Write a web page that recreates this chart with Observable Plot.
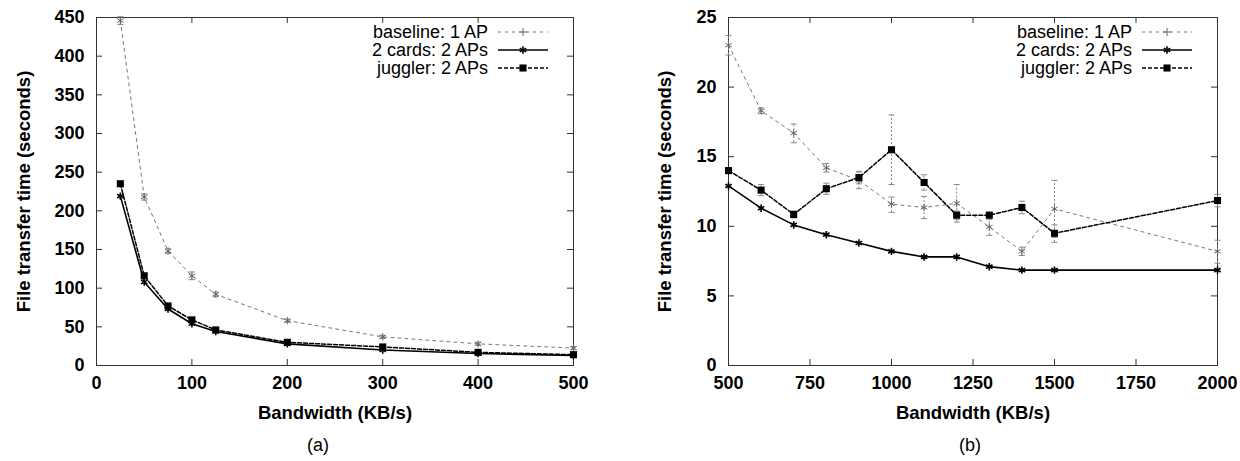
<!DOCTYPE html>
<html><head><meta charset="utf-8">
<script src="https://cdn.jsdelivr.net/npm/d3@7"></script>
<script src="https://cdn.jsdelivr.net/npm/@observablehq/plot@0.6"></script>
<style>
body{margin:0;background:#fff;font-family:"Liberation Sans",Arial,sans-serif;}
#wrap{display:flex;width:1240px;}
.panel{position:relative;width:620px;}
.panel svg text{font-weight:bold;}
.panel svg g[aria-label$="axis label"]{font-size:18.5px;}
.cap{font-size:18px;height:31px;line-height:31px;text-align:center;}
.legend{position:absolute;font-size:18px;color:#000;}
.row{display:flex;align-items:center;justify-content:flex-end;height:18.4px;}
.row span{margin-right:10px;white-space:nowrap;line-height:18.4px;}
.row svg{display:block;}
</style></head>
<body>
<div id="wrap"></div>
<script>
// ---- Data: panel (a) ----
const bwA = [25, 50, 75, 100, 125, 200, 300, 400, 500];
const baselineA = [446, 218, 148, 116, 92, 58, 37, 28, 22.5];
const baselineLoA = [441, 214, 145, 111, 89, 56, 35, 26, 20.5];
const baselineHiA = [451, 222, 151, 121, 95, 60, 39, 30, 24.5];
const cardsA = [219, 108, 73, 54, 44, 28, 20, 15.5, 13];
const jugglerA = [235, 116, 77, 59, 46, 30, 24, 17, 14];
const xTicksA = [0, 100, 200, 300, 400, 500];
const yTicksA = [0, 50, 100, 150, 200, 250, 300, 350, 400, 450];

// ---- Data: panel (b) ----
const bwB = [500, 600, 700, 800, 900, 1000, 1100, 1200, 1300, 1400, 1500, 2000];
const baselineB = [23.0, 18.3, 16.7, 14.2, 13.3, 11.6, 11.35, 11.65, 9.95, 8.2, 11.25, 8.2];
const baselineLoB = [22.3, 18.1, 16.0, 13.9, 12.7, 11.0, 10.55, 10.3, 9.35, 7.9, 9.2, 7.35];
const baselineHiB = [23.7, 18.5, 17.35, 14.5, 13.9, 12.1, 12.15, 13.0, 10.5, 8.5, 13.3, 9.0];
const cardsB = [12.9, 11.3, 10.1, 9.4, 8.8, 8.2, 7.8, 7.8, 7.1, 6.85, 6.85, 6.85];
const jugglerB = [14.0, 12.6, 10.85, 12.7, 13.5, 15.5, 13.15, 10.8, 10.8, 11.35, 9.5, 11.85];
const jugglerLoB = [13.8, 12.2, 10.6, 12.3, 13.05, 13.0, 12.6, 10.5, 10.6, 10.9, 8.85, 11.4];
const jugglerHiB = [14.2, 13.0, 11.1, 13.1, 13.95, 18.0, 13.7, 11.1, 11.0, 11.8, 10.1, 12.3];
const xTicksB = [500, 750, 1000, 1250, 1500, 1750, 2000];
const yTicksB = [0, 5, 10, 15, 20, 25];

const seriesNames = ["baseline: 1 AP", "2 cards: 2 APs", "juggler: 2 APs"];
const xLabel = "Bandwidth (KB/s)";
const yLabel = "File transfer time (seconds)";

const capSymbol = {draw(ctx, size) { const r = Math.sqrt(size / Math.PI); ctx.moveTo(-r, 0); ctx.lineTo(r, 0); }};

function panel(o) {
  const W = 620, H = 430, mt = 17, mb = 65;
  const fw = W - o.ml - o.mr, fh = H - mt - mb;
  const rows = o.x.map((v, i) => ({x: v, base: o.base[i], cards: o.cards[i], jug: o.jug[i]}));
  const errs = [];
  o.x.forEach((v, i) => {
    if (o.baseLo) errs.push({x: v, lo: o.baseLo[i], hi: o.baseHi[i]});
    if (o.jugLo) errs.push({x: v, lo: o.jugLo[i], hi: o.jugHi[i]});
  });
  return Plot.plot({
    width: W, height: H,
    marginLeft: o.ml, marginRight: o.mr, marginTop: mt, marginBottom: mb,
    style: {fontFamily: "Liberation Sans", fontSize: "18px", color: "#000", background: "#fff"},
    x: {domain: o.xDomain},
    y: {domain: o.yDomain},
    marks: [
      Plot.frame({stroke: "#333"}),
      Plot.tickY(o.yTicks, {insetRight: fw - 6, stroke: "#333"}),
      Plot.tickY(o.yTicks, {insetLeft: fw - 6, stroke: "#333"}),
      Plot.tickX(o.xTicks, {insetTop: fh - 6, stroke: "#333"}),
      Plot.tickX(o.xTicks, {insetBottom: fh - 6, stroke: "#333"}),
      Plot.axisX({ticks: o.xTicks, tickSize: 0, tickPadding: 11, tickFormat: d3.format("d"), label: xLabel, labelAnchor: "center", labelOffset: 53, labelArrow: "none"}),
      Plot.axisY({ticks: o.yTicks, tickSize: 0, tickPadding: 12, tickFormat: d3.format("d"), label: yLabel, labelAnchor: "center", labelOffset: o.yLabelOffset, labelArrow: "none"}),
      Plot.ruleX(errs, {x: "x", y1: "lo", y2: "hi", stroke: "#888", strokeWidth: 1, strokeDasharray: "2,2"}),
      Plot.dot(errs, {x: "x", y: "lo", symbol: capSymbol, r: 3, stroke: "#888", strokeWidth: 1}),
      Plot.dot(errs, {x: "x", y: "hi", symbol: capSymbol, r: 3, stroke: "#888", strokeWidth: 1}),
      Plot.line(rows, {x: "x", y: "base", stroke: "#777", strokeWidth: 1, strokeDasharray: "3,4"}),
      Plot.line(rows, {x: "x", y: "cards", stroke: "#000", strokeWidth: 1.6}),
      Plot.line(rows, {x: "x", y: "jug", stroke: "#000", strokeWidth: 1.5, strokeDasharray: "4,2"}),
      Plot.dot(rows, {x: "x", y: "base", symbol: "asterisk", r: 3.5, stroke: "#666", strokeWidth: 1}),
      Plot.dot(rows, {x: "x", y: "cards", symbol: "asterisk", r: 3.5, stroke: "#000", strokeWidth: 1.6}),
      Plot.dot(rows, {x: "x", y: "jug", symbol: "square", r: 4, fill: "#000"})
    ]
  });
}

function sample(kind) {
  const ns = "http://www.w3.org/2000/svg";
  const s = document.createElementNS(ns, "svg");
  s.setAttribute("width", 50); s.setAttribute("height", 18);
  const l = document.createElementNS(ns, "line");
  l.setAttribute("x1", 0); l.setAttribute("x2", 50); l.setAttribute("y1", 9); l.setAttribute("y2", 9);
  if (kind === 0) { l.setAttribute("stroke", "#777"); l.setAttribute("stroke-dasharray", "3,4"); l.setAttribute("stroke-width", 1); }
  if (kind === 1) { l.setAttribute("stroke", "#000"); l.setAttribute("stroke-width", 1.6); }
  if (kind === 2) { l.setAttribute("stroke", "#000"); l.setAttribute("stroke-dasharray", "4,2"); l.setAttribute("stroke-width", 1.5); }
  s.appendChild(l);
  const p = document.createElementNS(ns, "path");
  if (kind === 0) { p.setAttribute("d", "M21,9h8M25,5v8"); p.setAttribute("stroke", "#666"); p.setAttribute("fill", "none"); }
  if (kind === 1) { p.setAttribute("d", d3.symbol(d3.symbolAsterisk, Math.PI * 12.25)()); p.setAttribute("transform", "translate(25,9)"); p.setAttribute("stroke", "#000"); p.setAttribute("stroke-width", 1.6); }
  if (kind === 2) { p.setAttribute("d", d3.symbol(d3.symbolSquare, Math.PI * 16)()); p.setAttribute("transform", "translate(25,9)"); p.setAttribute("fill", "#000"); }
  s.appendChild(p);
  return s;
}

function legend(right) {
  const d = document.createElement("div");
  d.className = "legend";
  d.style.right = right + "px";
  d.style.top = "22.5px";
  seriesNames.forEach((n, i) => {
    const r = document.createElement("div");
    r.className = "row";
    const sp = document.createElement("span");
    sp.textContent = n;
    r.appendChild(sp);
    r.appendChild(sample(i));
    d.appendChild(r);
  });
  return d;
}

const wrap = document.getElementById("wrap");
const configs = [
  {x: bwA, base: baselineA, baseLo: baselineLoA, baseHi: baselineHiA, cards: cardsA, jug: jugglerA,
   xDomain: [0, 500], yDomain: [0, 450], xTicks: xTicksA, yTicks: yTicksA, ml: 96, mr: 47, yLabelOffset: 80,
   legendRight: 72, cap: "(a)", capShift: 8},
  {x: bwB, base: baselineB, baseLo: baselineLoB, baseHi: baselineHiB, cards: cardsB, jug: jugglerB, jugLo: jugglerLoB, jugHi: jugglerHiB,
   xDomain: [500, 2000], yDomain: [0, 25], xTicks: xTicksB, yTicks: yTicksB, ml: 108, mr: 23, yLabelOffset: 71,
   legendRight: 48, cap: "(b)", capShift: 40}
];
configs.forEach(c => {
  const p = document.createElement("div");
  p.className = "panel";
  p.appendChild(panel(c));
  p.appendChild(legend(c.legendRight));
  const cap = document.createElement("div");
  cap.className = "cap";
  cap.style.paddingLeft = (c.capShift > 0 ? 2 * c.capShift : 0) + "px";
  cap.style.paddingRight = (c.capShift < 0 ? -2 * c.capShift : 0) + "px";
  cap.textContent = c.cap;
  p.appendChild(cap);
  wrap.appendChild(p);
});
</script>
</body></html>
